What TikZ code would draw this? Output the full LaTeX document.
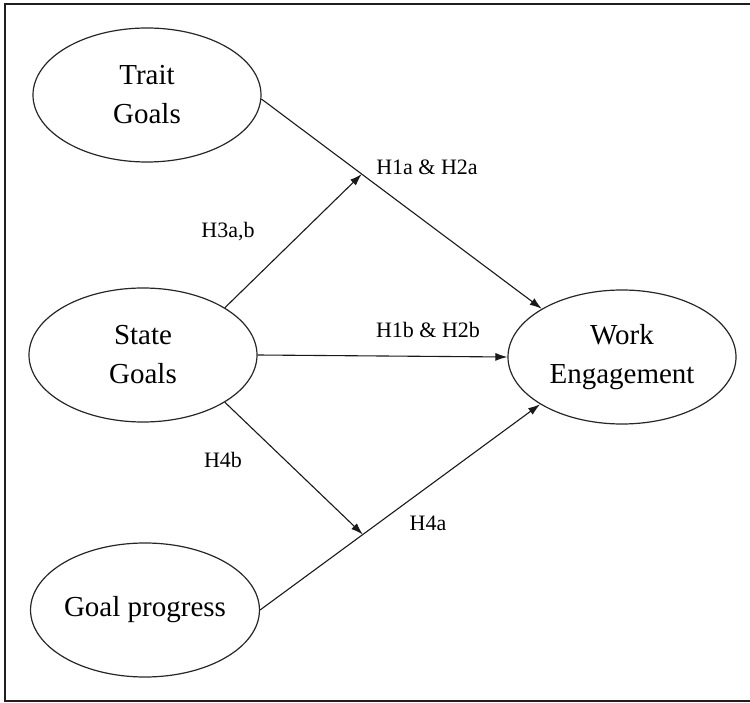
\documentclass[tikz,border=0pt]{standalone}
\usepackage{fontspec}
\setmainfont{Liberation Serif}
\usetikzlibrary{arrows.meta,calc,shapes.geometric}
\begin{document}
\begin{tikzpicture}[x=1pt,y=-1pt,
  construct/.style={ellipse,draw=black!85,line width=1.2pt,minimum width=228pt,minimum height=134pt,inner sep=0pt,align=center,font=\fontsize{29}{39}\selectfont},
  hyp/.style={font=\fontsize{22}{26}\selectfont,inner sep=0pt},
  path/.style={draw=black!90,line width=1.1pt,-{Latex[length=12pt,width=8pt]}},
  plain/.style={draw=black!90,line width=1.1pt},
  frame/.style={draw=black!88,line width=2.2pt}]
\useasboundingbox (0,0) rectangle (750,703);
\draw[frame] (752,4) -- (5,4) -- (5,701) -- (752,701);
\node[construct] (trait) at (147,95) {Trait\\Goals};
\node[construct] (state) at (143,355) {State\\Goals};
\node[construct] (gp) at (145,610) {Goal progress};
\node[construct] (we) at (622,357) {Work\\Engagement};
\coordinate (j1) at ($(trait.-2)!0.358!(we.149)$);
\coordinate (j2) at ($(gp.east)!0.367!(we.210)$);
\draw[path] (trait.-2) -- (we.149);
\draw[path] (state.30) -- (j1);
\draw[path] (state.east) -- (we.west);
\draw[path] (state.-30) -- (j2);
\draw[path] (gp.east) -- (we.210);
\node[hyp] (l1) at (427,167) {H1a \& H2a};
\node[hyp] (l2) at (228,232) {H3a,b};
\node[hyp] (l3) at (428,330) {H1b \& H2b};
\node[hyp] (l4) at (223,460) {H4b};
\node[hyp] (l5) at (428,523) {H4a};
\end{tikzpicture}
\end{document}
